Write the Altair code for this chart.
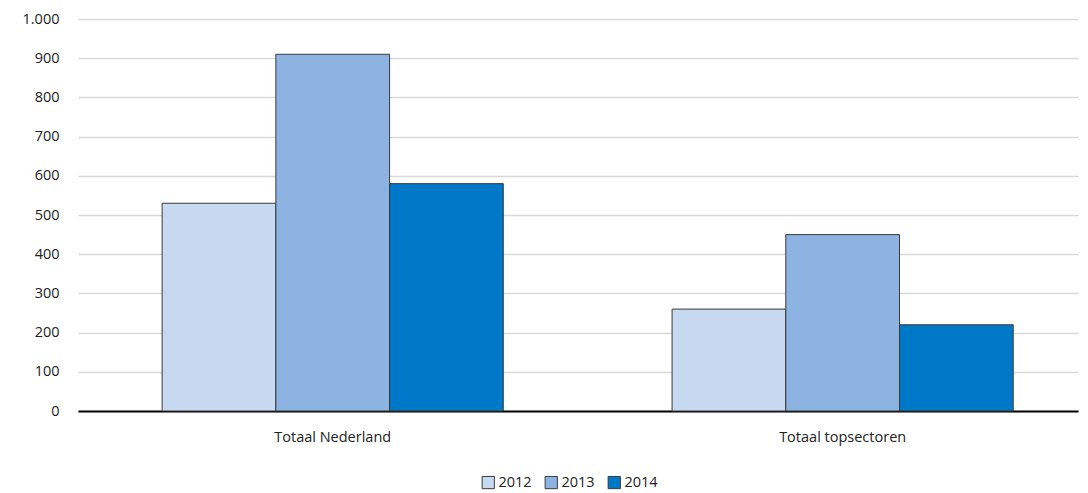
import altair as alt
import pandas as pd

categories = ["Totaal Nederland", "Totaal topsectoren"]
years = ["2012", "2013", "2014"]
values_2012 = [530, 260]
values_2013 = [910, 450]
values_2014 = [580, 220]
colors = ["#c6d9f0", "#8db3e2", "#0078c8"]

rows = []
for i, c in enumerate(categories):
    for y, vals in zip(years, [values_2012, values_2013, values_2014]):
        rows.append({"cat": c, "year": y, "value": vals[i]})
df = pd.DataFrame(rows)

FONT = "Open Sans"

chart = alt.Chart(df).mark_bar(stroke="#3a3a3a", strokeWidth=1).encode(
    x=alt.X("cat:N", sort=categories, title=None,
            scale=alt.Scale(paddingInner=0.331, paddingOuter=0.146, align=0.565),
            axis=alt.Axis(labelAngle=0, ticks=False, domainColor="#000000", domainWidth=2,
                          labelPadding=19, labelFontSize=14.5, labelColor="#222222", labelFont=FONT)),
    xOffset=alt.XOffset("year:N", sort=years, scale=alt.Scale(paddingInner=0, paddingOuter=0)),
    y=alt.Y("value:Q", title=None,
            scale=alt.Scale(domain=[0, 1000]),
            axis=alt.Axis(values=list(range(0, 1001, 100)), domain=False, ticks=False,
                          gridColor="#d9d9d9", gridWidth=1.5, labelPadding=19,
                          labelExpr="replace(datum.label, ',', '.')",
                          labelFontSize=14.5, labelColor="#222222", labelFont=FONT)),
    color=alt.Color("year:N", sort=years, scale=alt.Scale(domain=years, range=colors),
                    legend=alt.Legend(title=None, orient="none", direction="horizontal",
                                      legendX=403, legendY=456, symbolType="square",
                                      symbolSize=150, symbolStrokeColor="#3a3a3a",
                                      symbolStrokeWidth=1, labelFontSize=14.5, labelFont=FONT,
                                      labelColor="#222222", columnPadding=11, labelOffset=3)),
).properties(
    width=1000, height=392,
    autosize=alt.AutoSizeParams(type="none"),
    padding={"left": 70, "top": 11, "right": 2, "bottom": 80},
).configure_view(stroke=None)

chart.save("out.html", embed_options={"renderer": "svg", "actions": False})
